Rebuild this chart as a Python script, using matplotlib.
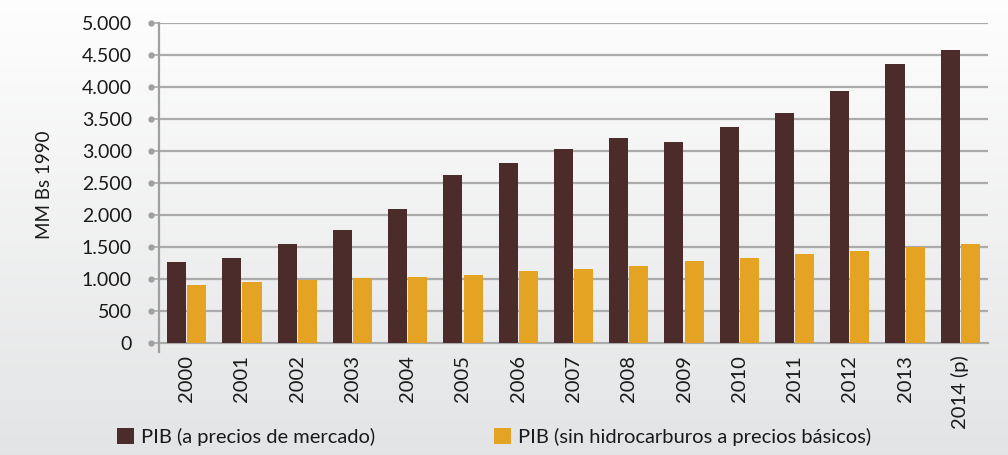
import numpy as np
import matplotlib
matplotlib.use("Agg")
import matplotlib.pyplot as plt
from matplotlib.patches import Patch
import matplotlib.transforms as mtransforms

years = ["2000", "2001", "2002", "2003", "2004", "2005", "2006", "2007",
         "2008", "2009", "2010", "2011", "2012", "2013", "2014 (p)"]
pib_mercado = [1266, 1328, 1547, 1762, 2094, 2625, 2812, 3031,
               3203, 3141, 3375, 3594, 3937, 4359, 4578]
pib_sin_hidro = [906, 953, 984, 1016, 1031, 1062, 1125, 1156,
                 1203, 1281, 1328, 1390, 1437, 1500, 1547]
y_ticks = [0, 500, 1000, 1500, 2000, 2500, 3000, 3500, 4000, 4500, 5000]
y_ticklabels = ["0", "500", "1.000", "1.500", "2.000", "2.500", "3.000",
                "3.500", "4.000", "4.500", "5.000"]
legend_labels = ["PIB (a precios de mercado)",
                 "PIB (sin hidrocarburos a precios básicos)"]
y_label = "MM Bs 1990"

BROWN = "#4B2C2A"
ORANGE = "#E5A323"
GRID = "#ABABAB"
TXT = "#1A1A1A"
FONT = ["Lato", "DejaVu Sans"]
plt.rcParams["font.family"] = FONT

W, H = 1008, 455
fig = plt.figure(figsize=(W / 100, H / 100), dpi=100)

# gradient background
bg = fig.add_axes([0, 0, 1, 1], zorder=-10)
grad = np.linspace(0, 1, 256).reshape(-1, 1)
top = np.array([0.995, 0.995, 0.995])
bot = np.array([0.890, 0.894, 0.898])
img = top[None, None, :] * (1 - grad[:, :, None]) + bot[None, None, :] * grad[:, :, None]
bg.imshow(img, aspect="auto", extent=[0, 1, 0, 1], origin="upper")
bg.axis("off")

left, right = 159 / W, 988 / W
bottom, topy = 1 - 343 / H, 1 - 23 / H
ax = fig.add_axes([left, bottom, right - left, topy - bottom])
ax.set_facecolor("none")

x = np.arange(len(years))
bw = 0.345
ax.bar(x - bw / 2 - 0.01, pib_mercado, width=bw, color=BROWN, zorder=3)
ax.bar(x + bw / 2 + 0.01, pib_sin_hidro, width=bw, color=ORANGE, zorder=3)

ax.set_xlim(-0.5, len(years) - 0.5)
ax.set_ylim(0, 5000)
ax.set_yticks(y_ticks)
ax.set_yticklabels(y_ticklabels, fontsize=14, color=TXT)
ax.set_xticks(x)
ax.set_xticklabels(years, rotation=90, fontsize=14.5, color=TXT)
ax.tick_params(axis="x", length=0, pad=8.5)
ax.tick_params(axis="y", length=6, width=1.2, color=GRID, pad=13.5)

for yv in y_ticks[1:]:
    ax.axhline(yv, color=GRID, lw=1.6, zorder=1)

for s in ["top", "right"]:
    ax.spines[s].set_visible(False)
ax.spines["left"].set_color("#A0A0A0")
ax.spines["left"].set_linewidth(1.6)
ax.spines["bottom"].set_color(GRID)
ax.spines["bottom"].set_linewidth(1.6)

# dots at tick ends
trans = mtransforms.offset_copy(ax.get_yaxis_transform(), fig=fig, x=-8, y=0, units="dots")
ax.plot([0] * len(y_ticks), y_ticks, "o", ms=3.5, color="#A0A0A0",
        transform=trans, clip_on=False, zorder=4)
# stub below axis
fig.add_artist(plt.Line2D([left, left], [bottom, bottom - 9 / H],
                          color="#A0A0A0", lw=1.6, transform=fig.transFigure))

fig.text(45 / W, 1 - 185 / H, y_label, rotation=90, ha="center", va="center",
         fontsize=13.5, color=TXT)

handles = [Patch(facecolor=BROWN), Patch(facecolor=ORANGE)]
fig.legend(handles, legend_labels, loc="center", bbox_to_anchor=(494 / W, 1 - 437 / H),
           ncol=2, frameon=False, fontsize=14.5, handlelength=0.85, handleheight=0.85,
           handletextpad=0.35, columnspacing=5.9, labelcolor=TXT)

fig.savefig("out.png", dpi=100)
